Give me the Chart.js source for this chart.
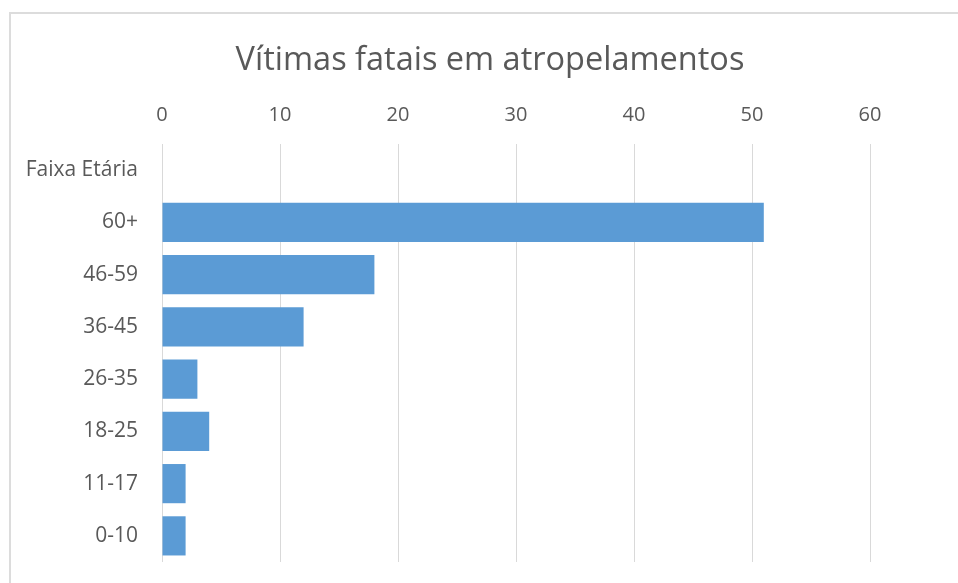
<!DOCTYPE html>
<html>
<head>
<meta charset="utf-8">
<script src="https://cdn.jsdelivr.net/npm/chart.js@4/dist/chart.umd.min.js"></script>
<style>
  body { margin: 0; background: #fff; overflow: hidden; }
  #frame { position: absolute; left: 9px; top: 12px; width: 1000px; height: 700px; border: 2px solid #dcdcdc; }
  #chart_container { position: absolute; left: 0; top: 0; width: 958px; height: 583px; }
</style>
</head>
<body>
<div id="frame"></div>
<div id="chart_container"><canvas id="atropelamentos_plot"></canvas></div>
<script>
// age groups, top to bottom (first row is the category header, no bar)
const faixas = ["Faixa Etária", "60+", "46-59", "36-45", "26-35", "18-25", "11-17", "0-10"];
const vitimas = [null, 51, 18, 12, 3, 4, 2, 2];
const xTicks = [0, 10, 20, 30, 40, 50, 60];

const FONT = "'Open Sans', Lato, sans-serif";
const GREY_TEXT = "#595959";

function noEdgePadding(axis) {
  axis.paddingTop = 0;
  axis.paddingBottom = 0;
}

function plotAtropelamentos() {
  let ctx = document.getElementById('atropelamentos_plot');
  window.atropelamentos_plot = new Chart(ctx, {
    type: 'bar',
    data: {
      labels: faixas,
      datasets: [{
        data: vitimas,
        backgroundColor: "#5B9BD5",
        borderWidth: 0,
        barPercentage: 0.75,
        categoryPercentage: 1.0,
      }]
    },
    options: {
      indexAxis: 'y',
      responsive: true,
      maintainAspectRatio: false,
      animation: false,
      layout: {
        padding: { left: 22, right: 0, top: 0, bottom: 21 }
      },
      plugins: {
        legend: { display: false },
        tooltip: { enabled: false },
        title: {
          display: true,
          text: 'Vítimas fatais em atropelamentos',
          color: GREY_TEXT,
          font: { family: FONT, size: 32.5, weight: 'normal' },
          padding: { top: 41, bottom: 5 }
        }
      },
      scales: {
        x: {
          position: 'top',
          min: 0,
          max: 60,
          afterBuildTicks: function (axis) {
            axis.ticks = xTicks.map(v => ({ value: v }));
          },
          afterFit: function (axis) {
            axis.height = 59;
          },
          grid: {
            color: "#d9d9d9",
            lineWidth: 1,
            drawTicks: false
          },
          border: { display: false },
          ticks: {
            color: GREY_TEXT,
            padding: 17,
            font: { family: FONT, size: 20 }
          }
        },
        y: {
          afterFit: function (axis) {
            axis.width = 140;
            noEdgePadding(axis);
          },
          grid: { display: false, drawTicks: false },
          border: { display: false },
          ticks: {
            color: GREY_TEXT,
            padding: 24,
            font: { family: FONT, size: 21 }
          }
        },
        // empty spacer on the right so the title centres like the original
        spacer: {
          type: 'category',
          position: 'right',
          labels: [''],
          afterFit: function (axis) {
            axis.width = 88;
            noEdgePadding(axis);
          },
          grid: { display: false, drawTicks: false },
          border: { display: false },
          ticks: { display: false }
        }
      }
    }
  });
}

plotAtropelamentos();
</script>
</body>
</html>
